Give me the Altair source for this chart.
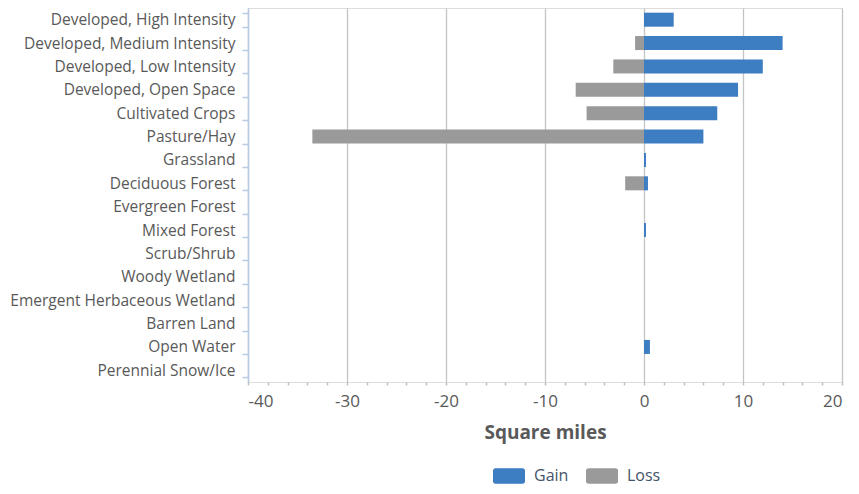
import altair as alt
import pandas as pd

categories = [
    "Developed, High Intensity",
    "Developed, Medium Intensity",
    "Developed, Low Intensity",
    "Developed, Open Space",
    "Cultivated Crops",
    "Pasture/Hay",
    "Grassland",
    "Deciduous Forest",
    "Evergreen Forest",
    "Mixed Forest",
    "Scrub/Shrub",
    "Woody Wetland",
    "Emergent Herbaceous Wetland",
    "Barren Land",
    "Open Water",
    "Perennial Snow/Ice",
]
gain = [3.0, 14.0, 12.0, 9.5, 7.4, 6.0, 0.2, 0.4, 0.0, 0.2, 0.0, 0.0, 0.0, 0.0, 0.6, 0.0]
loss = [0.0, -0.9, -3.1, -6.9, -5.8, -33.5, 0.0, -1.9, 0.0, 0.0, 0.0, 0.0, 0.0, 0.0, 0.0, 0.0]
series = ["Gain", "Loss"]
colors = ["#3d7dc1", "#9a9a9a"]
x_ticks = list(range(-40, 21, 2))

rows = []
for c, g, l in zip(categories, gain, loss):
    rows.append({"category": c, "series": "Loss", "value": l})
    rows.append({"category": c, "series": "Gain", "value": g})
df = pd.DataFrame(rows)

FONT = "Open Sans"
rect_path = ("M-0.85,-0.48H0.85A0.15,0.15 0 0 1 1,-0.33V0.33A0.15,0.15 0 0 1 0.85,0.48"
             "H-0.85A0.15,0.15 0 0 1 -1,0.33V-0.33A0.15,0.15 0 0 1 -0.85,-0.48Z")

chart = alt.Chart(df).transform_filter("datum.value != 0").mark_bar().encode(
    y=alt.Y("category:N", sort=categories,
            scale=alt.Scale(domain=categories, paddingInner=0.4, paddingOuter=0.2),
            axis=alt.Axis(title=None, domainColor="#b9cbe4", domainWidth=1.5,
                          tickColor="#b9cbe4", tickWidth=1.5, tickSize=6, tickBand="extent",
                          labelPadding=7, labelFontSize=15.5, labelColor="#595959",
                          labelFont=FONT, grid=False, labelLimit=300)),
    x=alt.X("value:Q",
            scale=alt.Scale(domain=[-40, 20], nice=False, zero=False),
            axis=alt.Axis(title="Square miles", values=x_ticks,
                          labelExpr="datum.value % 10 == 0 ? toString(datum.value) : ''",
                          labelFontSize=17, labelColor="#595959", labelFont=FONT,
                          labelPadding=8,
                          domain=False, tickColor="#bfbfbf", tickWidth=1.5, tickSize=3,
                          grid=True, gridColor="#c4c4c4", gridWidth=1.3,
                          gridOpacity={"condition": {"test": "datum.value % 10 === 0", "value": 1}, "value": 0},
                          titleFontSize=19, titleFontWeight="bold", titleColor="#595959",
                          titleFont=FONT, titlePadding=14)),
    color=alt.Color("series:N", scale=alt.Scale(domain=series, range=colors),
                    legend=alt.Legend(title=None, orient="none", legendX=245, legendY=452,
                                      direction="horizontal", symbolType=rect_path,
                                      symbolSize=1024, symbolStrokeWidth=0, symbolOpacity=1,
                                      labelFontSize=16, labelColor="#44546a", labelFont=FONT,
                                      labelOffset=9, columnPadding=17)),
    order=alt.Order("series:N", sort="descending"),
).properties(
    width=594, height=374,
    autosize=alt.AutoSizeParams(type="none"),
    padding={"left": 240, "top": 0, "right": 9, "bottom": 104},
).configure_view(stroke=None).configure(font=FONT)

chart.save("out.html", embed_options={"renderer": "svg", "actions": False})
